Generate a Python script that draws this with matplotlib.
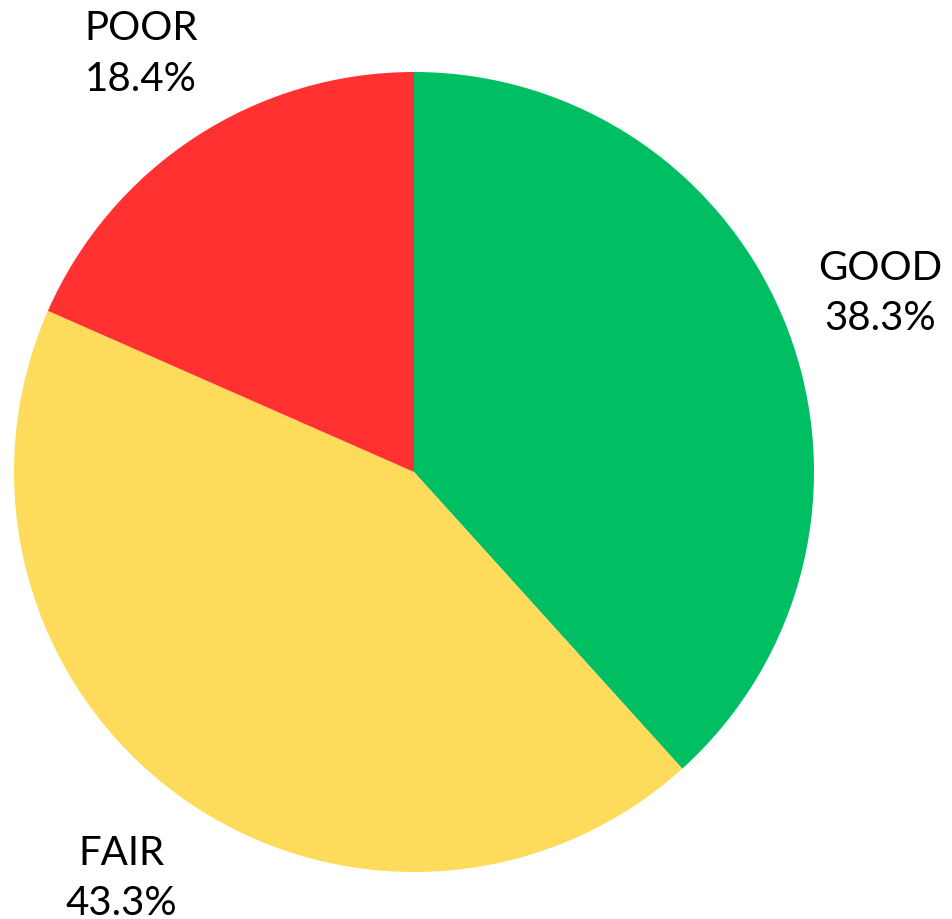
import matplotlib
matplotlib.use('Agg')
import matplotlib.pyplot as plt

categories = ['GOOD', 'FAIR', 'POOR']
shares = [38.3, 43.3, 18.4]
colors = ['#00BF63', '#FFDB5C', '#FF3131']

plt.rcParams['font.family'] = ['Lato', 'DejaVu Sans']

fig = plt.figure(figsize=(9.53, 9.2), dpi=100)
# 饼图中心约在 (414, 473) px，半径约 400 px
ax = fig.add_axes([14 / 953, 47 / 920, 800 / 953, 800 / 920])

labels = [c + '\n' + f'{v:.1f}%' for c, v in zip(categories, shares)]
wedges, texts = ax.pie(shares, labels=labels, colors=colors, startangle=90,
                       counterclock=False, labeldistance=1.25, radius=1,
                       textprops={'fontsize': 29, 'color': '#000000',
                                  'linespacing': 1.45})
for t in texts:
    t.set_ha('center')
    t.set_va('center')

ax.set_xlim(-1, 1)
ax.set_ylim(-1, 1)
ax.set_aspect('equal')
ax.axis('off')

fig.savefig('out.png', dpi=100)
